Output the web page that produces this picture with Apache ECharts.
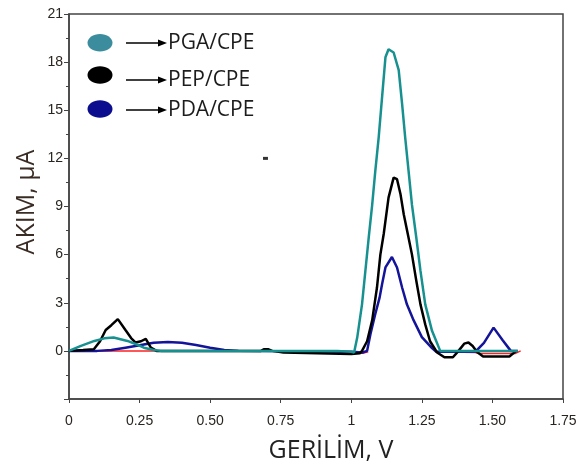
<!DOCTYPE html>
<html>
<head>
<meta charset="utf-8">
<script src="https://cdn.jsdelivr.net/npm/echarts@6/dist/echarts.min.js"></script>
<style>
  html, body { margin: 0; padding: 0; background: #fff; }
  #chart { width: 580px; height: 466px; }
</style>
</head>
<body>
<div id="chart"></div>
<script>
// Voltammetric responses: potential (V) vs current (µA)
const xTicks = [0, 0.25, 0.5, 0.75, 1, 1.25, 1.5, 1.75];
const yTicks = [-3, 0, 3, 6, 9, 12, 15, 18, 21];

const pgaCpe = [
  [0, 0], [0.04, 0.3], [0.09, 0.62], [0.125, 0.78], [0.158, 0.83], [0.207, 0.62],
  [0.24, 0.4], [0.265, 0.2], [0.3, 0.05], [0.325, 0], [0.6, 0], [0.95, 0],
  [1.0, -0.05], [1.01, -0.1], [1.021, 0.83], [1.038, 2.9], [1.05, 5.0], [1.062, 7.1],
  [1.074, 9.1], [1.085, 11.2], [1.097, 13.3], [1.109, 15.8], [1.121, 18.3], [1.132, 18.8],
  [1.15, 18.6], [1.168, 17.5], [1.18, 15.4], [1.191, 13.3], [1.203, 11.2], [1.215, 9.1],
  [1.23, 7.1], [1.245, 5.0], [1.262, 2.9], [1.286, 1.25], [1.315, 0], [1.59, 0]
];

const pepCpe = [
  [0, 0], [0.05, 0.05], [0.088, 0.1], [0.11, 0.6], [0.13, 1.3], [0.15, 1.6],
  [0.173, 1.98], [0.2, 1.3], [0.22, 0.8], [0.236, 0.52], [0.255, 0.6], [0.272, 0.75],
  [0.29, 0.2], [0.31, 0], [0.68, 0], [0.69, 0.1], [0.705, 0.1], [0.72, 0],
  [0.76, -0.1], [1.0, -0.2], [1.03, -0.15], [1.038, 0], [1.056, 0.6], [1.074, 1.9],
  [1.091, 3.95], [1.103, 6.0], [1.115, 7.3], [1.132, 9.55], [1.15, 10.8], [1.162, 10.7],
  [1.174, 9.8], [1.186, 8.5], [1.2, 7.3], [1.215, 6.0], [1.23, 4.4], [1.245, 2.9],
  [1.262, 1.65], [1.279, 0.6], [1.304, -0.1], [1.33, -0.4], [1.36, -0.4], [1.38, 0],
  [1.4, 0.45], [1.415, 0.52], [1.43, 0.3], [1.445, -0.05], [1.467, -0.35], [1.56, -0.35],
  [1.585, 0]
];

const pdaCpe = [
  [0, 0], [0.1, 0], [0.15, 0.05], [0.2, 0.2], [0.25, 0.35], [0.3, 0.5], [0.35, 0.56],
  [0.4, 0.5], [0.45, 0.36], [0.5, 0.2], [0.55, 0.05], [0.6, 0], [1.0, -0.05],
  [1.04, -0.1], [1.056, 0], [1.068, 1.05], [1.085, 2.3], [1.1, 3.3], [1.109, 4.15],
  [1.121, 5.2], [1.144, 5.85], [1.162, 5.2], [1.18, 3.95], [1.197, 2.9], [1.221, 1.9],
  [1.25, 0.86], [1.286, 0.17], [1.3, -0.05], [1.44, -0.05], [1.47, 0.5], [1.504, 1.45],
  [1.535, 0.7], [1.565, 0], [1.59, 0]
];

// Background scan; it is broken where the peaks rise above it
const blankCpe = [
  [0, 0], [0.3, 0], [0.95, 0], [1.0, -0.1], [1.04, -0.15], [1.06, -0.05], [1.065, '-'],
  [1.3, '-'], [1.31, -0.05], [1.44, -0.1], [1.45, -0.17], [1.58, -0.17], [1.6, 0]
];

const strayMark = [[0.696, 12.0]];

const legendItems = ['PGA/CPE', 'PEP/CPE', 'PDA/CPE'];
const legendDots = ['#3b8d9e', '#000000', '#0c0c8e'];

const chart = echarts.init(document.getElementById('chart'), null, { renderer: 'canvas' });

const textCol = '#2a2420';
const axisCol = '#444444';

// Hand-drawn key: dot, arrow, label
const dotY = [42.7, 75, 109];
const rowY = [43, 80, 110];
const legendGraphics = [];
legendItems.forEach((name, i) => {
  const cy = rowY[i];
  legendGraphics.push({
    type: 'ellipse', shape: { cx: 100, cy: dotY[i], rx: 12.5, ry: 8.8 },
    style: { fill: legendDots[i] }, z: 100
  });
  legendGraphics.push({
    type: 'line', shape: { x1: 126, y1: cy, x2: 160, y2: cy },
    style: { stroke: '#000', lineWidth: 1.5 }, z: 100
  });
  legendGraphics.push({
    type: 'polygon', shape: { points: [[158, cy - 3.5], [167, cy], [158, cy + 3.5]] },
    style: { fill: '#000' }, z: 100
  });
  legendGraphics.push({
    type: 'text', x: 168, y: cy,
    style: { text: name, fill: '#1c1c1c', font: '21px "Open Sans", sans-serif',
             textVerticalAlign: 'middle', textAlign: 'left' }, z: 100
  });
});

const option = {
  animation: false,
  backgroundColor: '#fff',
  grid: {
    left: 69, right: 17, top: 14, bottom: 67,
    show: true, borderColor: axisCol, borderWidth: 1.5
  },
  xAxis: {
    type: 'value', min: xTicks[0], max: xTicks[xTicks.length - 1], interval: 0.25,
    axisLine: { show: true, onZero: false, lineStyle: { color: axisCol, width: 1.5 } },
    axisTick: { show: true, inside: false, length: 4, lineStyle: { color: axisCol } },
    splitLine: { show: false },
    axisLabel: {
      color: textCol, fontSize: 14, fontFamily: 'Liberation Sans, Arial, sans-serif',
      margin: 15,
      formatter: v => (v === 0 ? '0' : v === 1 ? '1' : v.toFixed(2))
    }
  },
  yAxis: {
    type: 'value', min: yTicks[0], max: yTicks[yTicks.length - 1], interval: 3,
    axisLine: { show: true, onZero: false, lineStyle: { color: axisCol, width: 1.5 } },
    axisTick: { show: true, inside: false, length: 5, lineStyle: { color: axisCol } },
    minorTick: { show: true, splitNumber: 2, length: 3, lineStyle: { color: axisCol } },
    splitLine: { show: false },
    axisLabel: {
      color: textCol, fontSize: 14, fontFamily: 'Liberation Sans, Arial, sans-serif',
      margin: 6,
      formatter: v => (v === -3 ? '' : String(v))
    }
  },
  graphic: [
    ...legendGraphics,
    {
      type: 'text', x: 27, y: 202, rotation: Math.PI / 2,
      style: { text: 'AKIM, µA', fill: '#3a2c24', font: '25px "Open Sans", sans-serif',
               textAlign: 'center', textVerticalAlign: 'middle' }
    },
    {
      type: 'text', x: 331, y: 451,
      style: { text: 'GERİLİM, V', fill: '#222', font: '25px "Open Sans", sans-serif',
               textAlign: 'center', textVerticalAlign: 'middle' }
    }
  ],
  series: [
    { name: 'blank', type: 'line', data: blankCpe, showSymbol: false, smooth: false,
      connectNulls: false, lineStyle: { color: '#ff2020', width: 1.5 }, z: 1 },
    { name: 'PDA/CPE', type: 'line', data: pdaCpe, showSymbol: false, smooth: false,
      lineStyle: { color: '#14149a', width: 2.5 }, z: 2 },
    { name: 'PEP/CPE', type: 'line', data: pepCpe, showSymbol: false, smooth: false,
      lineStyle: { color: '#000000', width: 2.5 }, z: 3 },
    { name: 'PGA/CPE', type: 'line', data: pgaCpe, showSymbol: false, smooth: false,
      lineStyle: { color: '#17918f', width: 2.5 }, z: 4 },
    { name: 'mark', type: 'scatter', data: strayMark, symbol: 'rect', symbolSize: [5, 3],
      itemStyle: { color: '#000' }, z: 5 }
  ]
};

chart.setOption(option);
</script>
</body>
</html>
